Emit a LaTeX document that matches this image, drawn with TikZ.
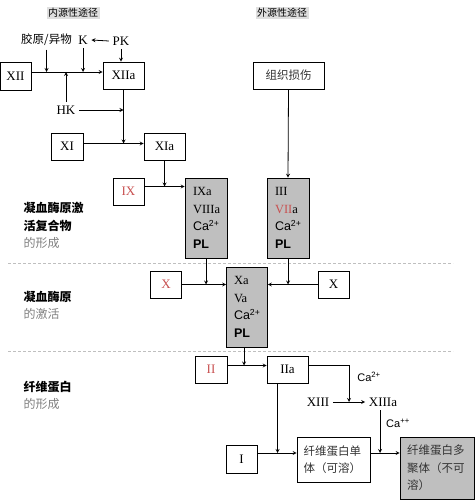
\documentclass[tikz,border=0pt]{standalone}
\usepackage{fontspec}
\setmainfont{Liberation Serif}
\newfontfamily\cjk{Noto Sans CJK SC}
\newfontfamily\arial{Liberation Sans}
\usetikzlibrary{calc}
\definecolor{numred}{RGB}{200,80,80}
\begin{document}
\begin{tikzpicture}[>=stealth,x=1pt,y=-1pt,line width=.8pt,font=\fontsize{13}{15}\selectfont]
	\tikzset{box/.style={draw,line width=.6pt,inner sep=1pt},
		gbox/.style={box,fill=gray!50,minimum width=42pt,minimum height=80pt,text width=26pt,align=left,font=\fontsize{12.5}{17.5}\selectfont},
		cn/.style={font=\cjk\fontsize{11.5}{17.5}\selectfont,text=black!80},
		lbl/.style={anchor=west,align=left,font=\cjk\bfseries\fontsize{12}{17.5}\selectfont},
		sep/.style={gray!50,line width=1pt,densely dashed}
	}
	\useasboundingbox (0,0) rectangle (474,500);
	\node[fill=gray!25,inner sep=1.5pt,font=\cjk\fontsize{10}{12}\selectfont] (endo) at (73,13) {内源性途径};
	\node[fill=gray!25,inner sep=1.5pt,font=\cjk\fontsize{10}{12}\selectfont] (exo) at (282,13) {外源性途径};
	\node[cn,text=black] (coll) at (46.5,40) {胶原/异物};
	\node (k) at (83,40) {K};
	\node (pk) at (121,41) {PK};
	\node (hk) at (66,110) {HK};
	\node[box,minimum width=31pt,minimum height=28pt] (xii) at (15.5,76) {XII};
	\node[box,minimum width=41pt,minimum height=27pt] (xiia) at (123.5,75.5) {XIIa};
	\node[box,minimum width=32pt,minimum height=27pt] (xi) at (67,146.5) {XI};
	\node[box,minimum width=41pt,minimum height=27pt] (xia) at (164.5,146.5) {XIa};
	\node[box,minimum width=31pt,minimum height=27pt,text=numred] (ix) at (128.5,191.5) {IX};
	\node[gbox] (ixa) at (206,218) {IXa\\VIIIa\\{\arial Ca\textsuperscript{2+}}\\{\arial\bfseries PL}};
	\node[box,cn,minimum width=71pt,minimum height=27pt] (tissue) at (288.5,75.5) {组织损伤};
	\node[gbox] (iii) at (288,218) {III\\{\color{numred}VII}a\\{\arial Ca\textsuperscript{2+}}\\{\arial\bfseries PL}};
	\node[box,minimum width=31pt,minimum height=27pt,text=numred] (xl) at (166,284.5) {X};
	\node[box,minimum width=31pt,minimum height=27pt] (xr) at (333.5,284.5) {X};
	\node[gbox,minimum width=41pt] (xa) at (247,307) {Xa\\Va\\{\arial Ca\textsuperscript{2+}}\\{\arial\bfseries PL}};
	\node[box,minimum width=32pt,minimum height=27pt,text=numred] (ii) at (211,369.5) {II};
	\node[box,minimum width=41pt,minimum height=27pt] (iia) at (287.5,369.5) {IIa};
	\node (xiii) at (318,402) {XIII};
	\node (xiiia) at (383,402) {XIIIa};
	\node[font=\arial\fontsize{11}{13}\selectfont] (ca1) at (369,377) {Ca\textsuperscript{2+}};
	\node[font=\arial\fontsize{11}{13}\selectfont] (ca2) at (398,423) {Ca\textsuperscript{++}};
	\node[box,minimum width=31pt,minimum height=28pt] (i) at (241.5,459) {I};
	\node[box,cn,minimum width=73pt,minimum height=45pt,text width=60pt,align=left] (mono) at (333.5,459.5) {纤维蛋白单\\体（可溶）};
	\node[box,cn,fill=gray!50,minimum width=74pt,minimum height=62pt,text width=60pt,align=left] (poly) at (437,468) {纤维蛋白多\\聚体（不可\\溶）};
	\node[lbl] (lab1) at (20,225.5) {凝血酶原激\\活复合物\\{\color{gray}\mdseries 的形成}};
	\node[lbl] (lab2) at (20,305.5) {凝血酶原\\{\color{gray}\mdseries 的激活}};
	\node[lbl] (lab3) at (20,395.5) {纤维蛋白\\{\color{gray}\mdseries 的形成}};
	\draw[sep] (8,263) -- (453,263);
	\draw[sep] (8,351) -- (453,351);
	\coordinate (l12) at ([yshift=4pt]xii.east);
	\coordinate (l11) at ([yshift=3pt]xi.east);
	\coordinate (l9) at ([yshift=5pt]ix.east);
	\coordinate (l2) at ([yshift=4pt]ii.east);
	\coordinate (l1) at ([yshift=6pt]i.east);
	\coordinate (xad) at ([xshift=-3pt]xa.south);
	\coordinate (iiad) at ([xshift=-10pt]iia.south);
	\coordinate (xiiiad) at ([xshift=-3pt]xiiia.south);
	\coordinate (j13) at ($(xiii.east)!.5!(xiiia.west)$);
	\draw[->] (l12) -- (l12 -| xiia.west);
	\draw[->] (coll.south) -- (coll.south |- l12);
	\draw[->] (k.south) -- (k.south |- l12);
	\draw[->] (pk.west) -- (k.east);
	\draw[->] (pk.south) -- (pk.south |- xiia.north);
	\draw[->] (hk.north) -- (hk.north |- l12);
	\draw[->] (hk.east) -- (hk.east -| xiia.south);
	\draw[->] (xiia.south) -- (xiia.south |- l11);
	\draw[->] (l11) -- (l11 -| xia.west);
	\draw[->] (xia.south) -- (xia.south |- l9);
	\draw[->] (l9) -- (l9 -| ixa.west);
	\draw[->] (tissue.south) -- (iii.north);
	\draw[->] (ixa.south) -- (ixa.south |- xl.east);
	\draw[->] (xl.east) -- (xl.east -| xa.west);
	\draw[->] (iii.south) -- (iii.south |- xr.west);
	\draw[->] (xr.west) -- (xr.west -| xa.east);
	\draw[->] (xad) -- (xad |- l2);
	\draw[->] (l2) -- (l2 -| iia.west);
	\draw[->] (l2 -| iia.east) -| (j13);
	\draw[->] (xiii.east) -- (xiiia.west);
	\draw[->] (iiad) -- (iiad |- l1);
	\draw[->] (l1) -- (l1 -| mono.west);
	\draw[->] (xiiiad) -- (xiiiad |- l1);
	\draw[->] (l1 -| mono.east) -- (l1 -| poly.west);
\end{tikzpicture}
\end{document}
